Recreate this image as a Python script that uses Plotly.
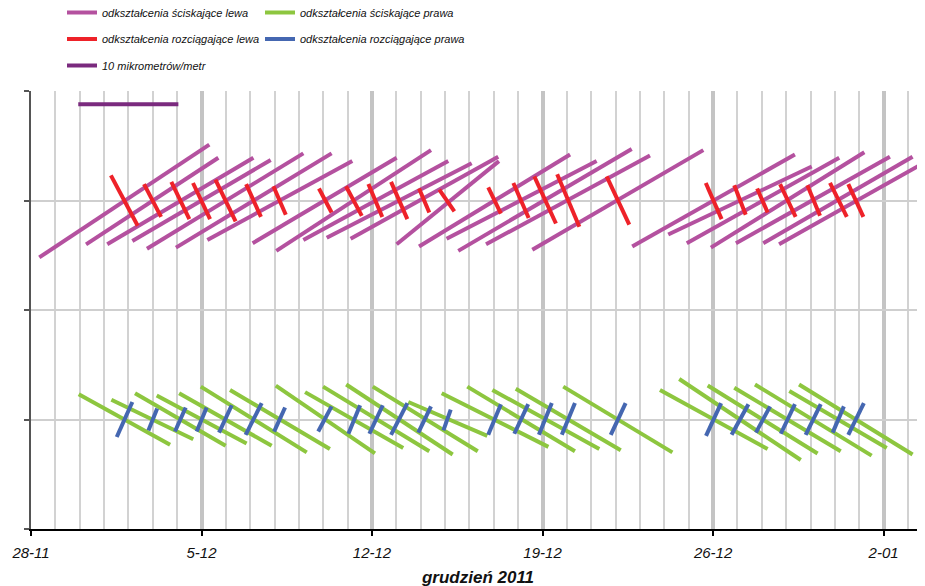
import plotly.graph_objects as go
import pandas as pd

BASE = pd.Timestamp("2011-11-28")

# ---- data (x in days from 28-11-2011, y in chart units) ----
# odkształcenia ściskające lewa (segment start / end)
cl_x0 = [0.34, 2.26, 3.13, 4.16, 4.76, 5.95, 7.24, 9.10, 10.07, 11.18, 12.14, 13.12, 15.01,
         15.93, 17.06, 17.54, 18.68, 20.58, 24.68, 26.16, 26.92, 27.91, 28.94, 30.06, 30.71]
cl_y0 = [2.48, 2.60, 2.60, 2.63, 2.56, 2.57, 2.64, 2.61, 2.54, 2.64, 2.66, 2.65, 2.60,
         2.58, 2.65, 2.54, 2.60, 2.55, 2.58, 2.69, 2.61, 2.57, 2.61, 2.61, 2.60]
cl_x1 = [7.32, 7.69, 9.13, 9.84, 11.18, 12.34, 13.19, 15.01, 16.42, 17.13, 18.09, 19.18, 19.21,
         22.13, 23.22, 24.66, 25.41, 27.60, 31.36, 32.05, 33.18, 34.21, 35.26, 36.19, 37.11]
cl_y1 = [3.51, 3.39, 3.39, 3.37, 3.43, 3.43, 3.36, 3.39, 3.46, 3.36, 3.34, 3.40, 3.36,
         3.42, 3.36, 3.47, 3.41, 3.46, 3.42, 3.31, 3.39, 3.44, 3.40, 3.40, 3.40]

# odkształcenia rozciągające lewa
tl_x0 = [3.28, 4.64, 5.76, 6.65, 7.57, 8.83, 9.95, 11.82, 12.93, 13.85, 14.78, 15.93, 16.76,
         18.77, 19.80, 20.66, 21.60, 23.63, 27.70, 28.87, 29.81, 30.75, 31.87, 32.80, 33.55]
tl_y0 = [3.23, 3.15, 3.17, 3.16, 3.19, 3.15, 3.13, 3.11, 3.13, 3.15, 3.17, 3.11, 3.10,
         3.12, 3.16, 3.22, 3.24, 3.22, 3.16, 3.14, 3.11, 3.15, 3.14, 3.16, 3.15]
tl_x1 = [4.38, 5.34, 6.50, 7.35, 8.40, 9.44, 10.46, 12.34, 13.58, 14.42, 15.45, 16.35, 17.38,
         19.29, 20.43, 21.55, 22.51, 24.56, 28.35, 29.34, 30.24, 31.39, 32.39, 33.49, 34.17]
tl_y1 = [2.77, 2.85, 2.83, 2.83, 2.81, 2.85, 2.87, 2.89, 2.86, 2.85, 2.83, 2.89, 2.90,
         2.88, 2.84, 2.79, 2.76, 2.78, 2.83, 2.87, 2.89, 2.85, 2.86, 2.85, 2.85]

# odkształcenia ściskające prawa
cr_x0 = [1.96, 3.30, 4.27, 5.16, 6.08, 6.97, 8.17, 10.05, 11.25, 11.99, 12.94, 14.03, 15.49,
         16.86, 17.91, 18.94, 19.90, 21.85, 25.82, 26.61, 27.78, 28.87, 29.72, 31.13, 31.53]
cr_y0 = [1.23, 1.18, 1.24, 1.22, 1.24, 1.30, 1.27, 1.31, 1.25, 1.30, 1.32, 1.30, 1.16,
         1.24, 1.30, 1.27, 1.28, 1.30, 1.27, 1.37, 1.31, 1.29, 1.32, 1.26, 1.32]
cr_x1 = [5.71, 6.66, 7.99, 8.85, 9.88, 11.32, 12.27, 14.12, 15.28, 16.35, 17.31, 18.34, 18.73,
         21.24, 22.33, 23.33, 24.21, 26.33, 30.24, 31.60, 32.29, 33.24, 34.51, 35.13, 36.19]
cr_y1 = [0.77, 0.82, 0.76, 0.78, 0.76, 0.70, 0.73, 0.69, 0.74, 0.71, 0.68, 0.71, 0.85,
         0.75, 0.71, 0.73, 0.72, 0.70, 0.73, 0.63, 0.69, 0.71, 0.67, 0.74, 0.68]

# odkształcenia rozciągające prawa
tr_x0 = [3.52, 4.82, 5.91, 6.80, 7.72, 8.81, 9.98, 11.79, 13.03, 13.89, 14.78, 15.90, 16.93,
         18.77, 19.84, 20.85, 21.79, 23.80, 27.71, 28.76, 29.76, 30.78, 31.80, 32.91, 33.55]
tr_y0 = [0.84, 0.90, 0.89, 0.89, 0.88, 0.86, 0.89, 0.89, 0.87, 0.87, 0.86, 0.88, 0.90,
         0.86, 0.87, 0.86, 0.86, 0.86, 0.85, 0.86, 0.88, 0.87, 0.86, 0.88, 0.86]
tr_x1 = [4.16, 5.18, 6.35, 7.21, 8.24, 9.47, 10.43, 12.34, 13.51, 14.44, 15.45, 16.42, 17.23,
         19.29, 20.41, 21.38, 22.33, 24.41, 28.33, 29.45, 30.34, 31.36, 32.42, 33.37, 34.19]
tr_y1 = [1.16, 1.10, 1.11, 1.11, 1.13, 1.15, 1.11, 1.12, 1.13, 1.13, 1.15, 1.12, 1.09,
         1.14, 1.14, 1.15, 1.15, 1.15, 1.15, 1.14, 1.12, 1.14, 1.14, 1.12, 1.15]

# skala: 10 mikrometrów/metr
scale_x = [1.94, 6.05]
scale_y = [3.88, 3.88]

# osie
week_days = [0, 7, 14, 21, 28, 35]
week_labels = ["28-11", "5-12", "12-12", "19-12", "26-12", "2-01"]
x_end_days = 36.70

names = {
    "cl": "odkształcenia ściskające lewa",
    "cr": "odkształcenia ściskające prawa",
    "tl": "odkształcenia rozciągające lewa",
    "tr": "odkształcenia rozciągające prawa",
    "sc": "10 mikrometrów/metr",
}


def day(d):
    return BASE + pd.Timedelta(days=d)


def segments(x0, y0, x1, y1):
    xs, ys = [], []
    for a, b, c, d in zip(x0, y0, x1, y1):
        xs += [day(a), day(c), None]
        ys += [b, d, None]
    return xs, ys


fig = go.Figure()
LW = 4


def add(key, x0, y0, x1, y1, color, legend):
    xs, ys = segments(x0, y0, x1, y1)
    fig.add_trace(go.Scatter(x=xs, y=ys, mode="lines", name=names[key],
                             line=dict(color=color, width=LW), legend=legend,
                             legendgroup=key, hoverinfo="skip"))


add("cl", cl_x0, cl_y0, cl_x1, cl_y1, "#B4519F", "legend")
add("cr", cr_x0, cr_y0, cr_x1, cr_y1, "#8DC63F", "legend2")
add("tl", tl_x0, tl_y0, tl_x1, tl_y1, "#EE2229", "legend")
add("tr", tr_x0, tr_y0, tr_x1, tr_y1, "#4567B1", "legend2")
fig.add_trace(go.Scatter(x=[day(v) for v in scale_x], y=scale_y, mode="lines",
                         name=names["sc"], line=dict(color="#7A2A7E", width=LW),
                         legend="legend", legendgroup="sc", hoverinfo="skip"))

# page is offset by the default 8px body margin; plot area is 894 x 438 px
PW, PH = 894, 438
FONT = "Liberation Sans Narrow, Arial Narrow, Liberation Sans, Arial, sans-serif"
legend_common = dict(font=dict(family=FONT, size=11, color="#111111", style="italic"),
                     bgcolor="rgba(0,0,0,0)", tracegroupgap=7.5, orientation="v",
                     xref="paper", yref="paper",
                     xanchor="left", yanchor="top", y=1 + 93 / PH)

fig.update_layout(
    width=925, height=586,
    margin=dict(l=23, r=8, t=83, b=65, autoexpand=False),
    paper_bgcolor="white", plot_bgcolor="white",
    font=dict(family="Liberation Sans, Arial, sans-serif", color="#111111"),
    showlegend=True,
    legend=dict(x=31 / PW, **legend_common),
    legend2=dict(x=229 / PW, **legend_common),
    xaxis=dict(
        type="date",
        range=[day(0), day(x_end_days)],
        tickvals=[day(d) for d in week_days], ticktext=week_labels,
        ticks="outside", ticklen=5, tickwidth=2, tickcolor="#000000",
        tickfont=dict(family="Liberation Sans, Arial, sans-serif", size=15,
                      style="italic", color="#111111"),
        ticklabelstandoff=4,
        showline=True, linecolor="#000000", linewidth=2,
        showgrid=True, gridcolor="#C4C4C4", gridwidth=3.5,
        minor=dict(dtick=86400000, tick0=day(0), showgrid=True,
                   gridcolor="#D2D2D2", gridwidth=1.5, ticks=""),
        zeroline=False,
        title=dict(text="grudzień 2011", standoff=11,
                   font=dict(family="Liberation Sans, Arial, sans-serif", size=17,
                             weight="bold", style="italic", color="#111111")),
    ),
    yaxis=dict(
        range=[0, 4], dtick=1, tick0=0,
        showticklabels=False,
        ticks="outside", ticklen=5, tickwidth=2, tickcolor="#555555",
        showline=True, linecolor="#555555", linewidth=2,
        showgrid=True, gridcolor="#CFCFCF", gridwidth=1.5,
        zeroline=False,
    ),
)

fig.write_html("out.html")
